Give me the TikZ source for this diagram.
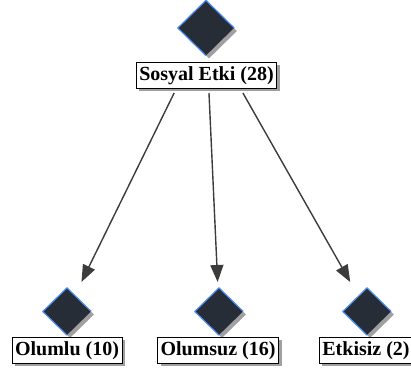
\documentclass[tikz,border=0pt]{standalone}
\usepackage{fontspec}
\setmainfont{Liberation Serif}
\usetikzlibrary{shapes.geometric,shadows,arrows.meta,calc}
\definecolor{dfill}{HTML}{272D36}
\definecolor{dblue}{HTML}{4A8CF0}
\definecolor{arr}{HTML}{3C3C3C}
\definecolor{shd}{HTML}{A0A0A0}
\tikzset{
  gem/.style={diamond, aspect=1, inner sep=0pt, fill=dfill,
    general shadow={shadow xshift=3pt, shadow yshift=-3pt, fill=shd}},
  bigegem/.style={gem, minimum width=56pt, minimum height=55pt},
  smallgem/.style={gem, minimum width=48pt, minimum height=47pt},
  lbl/.style={draw=black, line width=0.8pt, fill=white, inner xsep=3pt, inner ysep=4pt,
    text height=14pt, text depth=4pt,
    font=\fontsize{20}{24}\selectfont\bfseries,
    general shadow={shadow xshift=3pt, shadow yshift=-3pt, fill=shd}},
  conn/.style={draw=arr, line width=1.4pt, -{Triangle[length=17pt,width=13pt]}},
  rim/.style={draw=dblue, line width=1.2pt, line join=round}
}
\begin{document}
\begin{tikzpicture}[x=1pt,y=-1pt]
\useasboundingbox (0,0) rectangle (411,371);
\node[bigegem] (d0) at (206,28) {};
\node[smallgem] (d1) at (67,311.5) {};
\node[smallgem] (d2) at (219,311.5) {};
\node[smallgem] (d3) at (367,311.5) {};
\foreach \d in {d0,d1,d2,d3}{
  \draw[rim] (\d.south) -- (\d.west) -- (\d.north) -- (\d.east);
}
\node[lbl] (t0) at (206.5,75.5) {Sosyal Etki (28)};
\node[lbl] (t1) at (67,350) {Olumlu (10)};
\node[lbl] (t2) at (218,350) {Olumsuz (16)};
\node[lbl] (t3) at (366,350) {Etkisiz (2)};
\foreach \i in {1,2,3}{
  \coordinate (s\i) at ($(d0)!{65/283.5}!(d\i)$);
  \coordinate (e\i) at ($(d0)!{254/283.5}!(d\i)$);
  \draw[conn] (s\i) -- (e\i);
}
\end{tikzpicture}
\end{document}
